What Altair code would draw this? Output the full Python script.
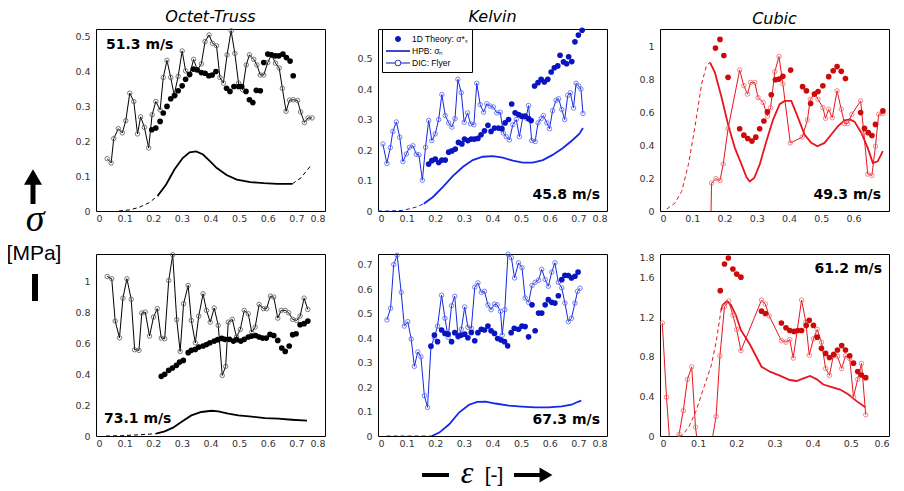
import altair as alt
import pandas as pd

# ---------------- Octet-Truss, 51.3 m/s ----------------
OT1_DIC_X = [0.039,0.053,0.062,0.078,0.092,0.104,0.118,0.132,0.145,0.156,0.169,0.184,0.196,0.209,0.224,0.235,0.248,0.261,0.273,0.287,0.301,0.313,0.327,0.341,0.354,0.368,0.381,0.395,0.407,0.421,0.433,0.445,0.458,0.472,0.485,0.498,0.512,0.525,0.536,0.551,0.562,0.574,0.586,0.600,0.613,0.627,0.640,0.651,0.664,0.676,0.689,0.704,0.715,0.728,0.741,0.755]
OT1_DIC_Y = [0.150,0.138,0.208,0.236,0.224,0.259,0.338,0.314,0.221,0.270,0.240,0.181,0.276,0.314,0.290,0.383,0.432,0.383,0.333,0.386,0.459,0.402,0.390,0.435,0.404,0.422,0.486,0.505,0.481,0.474,0.383,0.367,0.448,0.517,0.452,0.367,0.348,0.419,0.448,0.435,0.419,0.390,0.390,0.426,0.448,0.424,0.410,0.352,0.286,0.318,0.319,0.317,0.284,0.254,0.267,0.267]
OT1_TH_X = [0.195,0.209,0.224,0.235,0.248,0.261,0.275,0.287,0.301,0.313,0.327,0.340,0.353,0.368,0.381,0.394,0.406,0.419,0.456,0.468,0.482,0.498,0.509,0.524,0.536,0.548,0.560,0.574,0.586,0.600,0.613,0.627,0.639,0.653,0.665,0.678,0.689]
OT1_TH_Y = [0.233,0.238,0.257,0.281,0.300,0.322,0.331,0.345,0.359,0.378,0.392,0.407,0.405,0.397,0.395,0.388,0.390,0.400,0.352,0.343,0.357,0.357,0.357,0.343,0.319,0.311,0.346,0.345,0.426,0.450,0.448,0.445,0.445,0.450,0.440,0.430,0.388]
OT1_HPB_DL_X = [0.080,0.115,0.150,0.186,0.215]
OT1_HPB_DL_Y = [0.0,0.003,0.010,0.024,0.043]
OT1_HPB_X = [0.215,0.245,0.274,0.303,0.327,0.350,0.374,0.398,0.421,0.456,0.492,0.539,0.586,0.633,0.686]
OT1_HPB_Y = [0.043,0.076,0.119,0.152,0.168,0.171,0.162,0.143,0.124,0.103,0.090,0.083,0.080,0.078,0.078]
OT1_HPB_DR_X = [0.686,0.716,0.753]
OT1_HPB_DR_Y = [0.078,0.095,0.133]

# ---------------- Kelvin, 45.8 m/s ----------------
KV1_DIC_X = [0.017,0.031,0.043,0.052,0.064,0.076,0.087,0.099,0.110,0.122,0.134,0.143,0.155,0.166,0.177,0.188,0.200,0.212,0.223,0.235,0.247,0.258,0.269,0.279,0.291,0.301,0.313,0.323,0.335,0.345,0.357,0.369,0.380,0.392,0.403,0.415,0.427,0.438,0.448,0.459,0.471,0.483,0.494,0.506,0.517,0.526,0.537,0.549,0.559,0.570,0.578,0.590,0.599,0.610,0.622,0.631,0.642,0.652,0.663,0.672,0.683,0.692,0.701,0.709,0.716]
KV1_DIC_Y = [0.220,0.156,0.208,0.261,0.292,0.242,0.162,0.187,0.209,0.214,0.186,0.184,0.101,0.209,0.297,0.231,0.253,0.300,0.382,0.313,0.289,0.275,0.303,0.432,0.388,0.291,0.322,0.286,0.283,0.419,0.349,0.324,0.352,0.344,0.341,0.322,0.324,0.256,0.244,0.233,0.283,0.300,0.244,0.308,0.305,0.346,0.231,0.228,0.289,0.303,0.313,0.289,0.270,0.329,0.363,0.368,0.333,0.300,0.379,0.388,0.338,0.419,0.410,0.400,0.320]
KV1_TH_X = [0.177,0.188,0.200,0.212,0.223,0.235,0.247,0.258,0.270,0.281,0.293,0.302,0.314,0.326,0.337,0.349,0.360,0.372,0.384,0.395,0.407,0.421,0.433,0.444,0.456,0.467,0.479,0.491,0.502,0.514,0.526,0.535,0.547,0.559,0.570,0.581,0.593,0.605,0.616,0.628,0.636,0.648,0.659,0.666,0.677,0.688,0.700,0.713]
KV1_TH_Y = [0.154,0.165,0.170,0.159,0.167,0.167,0.193,0.197,0.203,0.225,0.220,0.236,0.231,0.236,0.236,0.238,0.250,0.263,0.281,0.261,0.272,0.272,0.270,0.289,0.300,0.351,0.322,0.316,0.311,0.311,0.303,0.297,0.410,0.421,0.432,0.423,0.432,0.456,0.470,0.476,0.511,0.489,0.483,0.506,0.490,0.555,0.577,0.593]
KV1_HPB_DL_X = [0.0,0.041,0.087,0.134,0.160]
KV1_HPB_DL_Y = [0.0,0.0,0.002,0.013,0.024]
KV1_HPB_X = [0.160,0.192,0.227,0.262,0.297,0.331,0.366,0.401,0.436,0.471,0.506,0.541,0.576,0.610,0.645,0.680,0.703,0.716]
KV1_HPB_Y = [0.024,0.046,0.079,0.115,0.145,0.167,0.178,0.180,0.175,0.165,0.159,0.159,0.167,0.184,0.206,0.233,0.253,0.272]

# ---------------- Cubic, 49.3 m/s ----------------
CU1_DIC_X = [0.155,0.160,0.173,0.186,0.196,0.211,0.247,0.260,0.271,0.281,0.294,0.304,0.320,0.333,0.343,0.356,0.369,0.381,0.404,0.441,0.457,0.466,0.479,0.490,0.505,0.513,0.523,0.534,0.549,0.562,0.572,0.582,0.595,0.622,0.632,0.644,0.657,0.668,0.678,0.691]
CU1_DIC_Y = [-0.3,0.169,0.196,0.185,0.285,0.499,0.855,0.760,0.709,0.780,0.780,0.688,0.658,0.576,0.627,0.845,0.937,0.770,0.413,0.448,0.552,0.678,0.709,0.678,0.627,0.562,0.617,0.566,0.729,0.617,0.530,0.530,0.587,0.668,0.475,0.224,0.216,0.393,0.587,0.591]
CU1_TH_X = [0.172,0.186,0.198,0.211,0.247,0.260,0.272,0.285,0.297,0.309,0.322,0.333,0.345,0.358,0.369,0.381,0.405,0.442,0.454,0.467,0.479,0.490,0.505,0.523,0.537,0.549,0.562,0.575,0.622,0.634,0.646,0.657,0.668,0.691]
CU1_TH_Y = [0.988,1.041,0.943,0.811,0.499,0.460,0.440,0.424,0.448,0.499,0.546,0.601,0.705,0.796,0.800,0.817,0.855,0.754,0.729,0.652,0.709,0.725,0.760,0.815,0.851,0.876,0.847,0.804,0.597,0.501,0.475,0.458,0.525,0.607]
CU1_HPB_DL_X = [0.021,0.046,0.067,0.088,0.108,0.129,0.144,0.155]
CU1_HPB_DL_Y = [0.012,0.047,0.118,0.281,0.505,0.770,0.882,0.902]
CU1_HPB_X = [0.155,0.170,0.191,0.211,0.232,0.253,0.268,0.278,0.292,0.309,0.330,0.351,0.371,0.387,0.407,0.428,0.448,0.469,0.488,0.510,0.531,0.552,0.572,0.588,0.603,0.624,0.644,0.660,0.675,0.691]
CU1_HPB_Y = [0.902,0.841,0.688,0.525,0.383,0.281,0.206,0.179,0.200,0.281,0.424,0.556,0.648,0.668,0.668,0.566,0.464,0.413,0.393,0.413,0.464,0.515,0.550,0.556,0.542,0.475,0.383,0.291,0.301,0.363]

# ---------------- Octet-Truss, 73.1 m/s ----------------
OT2_DIC_X = [0.039,0.055,0.067,0.082,0.094,0.108,0.123,0.135,0.150,0.160,0.172,0.187,0.201,0.214,0.228,0.240,0.254,0.268,0.282,0.294,0.306,0.322,0.333,0.347,0.359,0.374,0.386,0.399,0.413,0.427,0.441,0.453,0.462,0.476,0.491,0.504,0.518,0.532,0.544,0.556,0.570,0.585,0.596,0.609,0.621,0.635,0.647,0.661,0.673,0.687,0.701,0.713,0.727,0.740]
OT2_DIC_Y = [1.030,1.015,0.742,0.634,0.890,1.015,0.882,0.557,0.553,0.794,0.800,0.645,0.768,0.822,0.632,0.628,1.004,1.170,0.751,0.546,0.854,0.972,0.746,0.602,0.774,0.918,0.811,0.735,0.826,0.714,0.391,0.449,0.735,0.753,0.639,0.688,0.811,0.789,0.671,0.703,0.849,0.822,0.822,0.903,0.897,0.761,0.811,0.811,0.796,0.753,0.746,0.774,0.890,0.817]
OT2_TH_X = [0.228,0.240,0.254,0.267,0.281,0.292,0.305,0.322,0.333,0.347,0.359,0.374,0.386,0.398,0.413,0.425,0.439,0.450,0.466,0.480,0.491,0.506,0.518,0.532,0.544,0.558,0.570,0.582,0.595,0.608,0.621,0.635,0.649,0.661,0.675,0.687,0.699,0.713,0.727,0.740]
OT2_TH_Y = [0.385,0.398,0.424,0.439,0.456,0.477,0.488,0.538,0.553,0.559,0.574,0.581,0.591,0.602,0.613,0.622,0.630,0.624,0.624,0.613,0.622,0.613,0.624,0.639,0.645,0.649,0.639,0.632,0.632,0.656,0.649,0.617,0.568,0.546,0.581,0.654,0.660,0.718,0.725,0.742]
OT2_HPB_DL_X = [0.035,0.090,0.150,0.210]
OT2_HPB_DL_Y = [0.0,0.002,0.008,0.015]
OT2_HPB_X = [0.210,0.240,0.269,0.298,0.333,0.368,0.404,0.427,0.462,0.497,0.544,0.591,0.637,0.684,0.737]
OT2_HPB_Y = [0.015,0.030,0.054,0.090,0.133,0.155,0.163,0.159,0.144,0.133,0.125,0.116,0.112,0.105,0.099]

# ---------------- Kelvin, 67.3 m/s ----------------
KV2_DIC_X = [0.031,0.044,0.055,0.067,0.081,0.092,0.104,0.116,0.127,0.139,0.150,0.162,0.173,0.185,0.197,0.208,0.222,0.234,0.245,0.257,0.268,0.280,0.291,0.303,0.314,0.326,0.338,0.349,0.361,0.372,0.384,0.395,0.407,0.416,0.428,0.434,0.443,0.454,0.466,0.477,0.491,0.503,0.514,0.526,0.538,0.549,0.561,0.572,0.584,0.595,0.607,0.618,0.630,0.642,0.653,0.665,0.676,0.688,0.697,0.706]
KV2_DIC_Y = [0.475,0.523,0.702,0.740,0.588,0.450,0.468,0.397,0.285,0.344,0.324,0.165,0.117,0.365,0.404,0.450,0.576,0.482,0.404,0.533,0.572,0.404,0.437,0.528,0.445,0.441,0.609,0.627,0.588,0.592,0.537,0.517,0.540,0.537,0.510,0.413,0.517,0.744,0.730,0.647,0.709,0.689,0.565,0.547,0.616,0.629,0.638,0.682,0.641,0.613,0.671,0.709,0.629,0.606,0.544,0.468,0.482,0.544,0.592,0.605]
KV2_TH_X = [0.185,0.197,0.208,0.222,0.234,0.245,0.257,0.268,0.280,0.291,0.303,0.314,0.326,0.338,0.349,0.361,0.372,0.384,0.395,0.407,0.418,0.430,0.442,0.453,0.465,0.476,0.491,0.503,0.514,0.526,0.538,0.549,0.561,0.572,0.584,0.595,0.607,0.618,0.630,0.642,0.653,0.665,0.676,0.688,0.699]
KV2_TH_Y = [0.368,0.413,0.386,0.434,0.420,0.417,0.386,0.423,0.409,0.413,0.417,0.402,0.424,0.390,0.423,0.437,0.434,0.450,0.431,0.420,0.399,0.393,0.386,0.369,0.423,0.441,0.437,0.450,0.448,0.406,0.537,0.431,0.503,0.503,0.537,0.558,0.547,0.544,0.574,0.640,0.658,0.657,0.647,0.654,0.671]
KV2_HPB_DL_X = [0.030,0.090,0.150,0.188]
KV2_HPB_DL_Y = [0.0,0.0,0.0,0.0]
KV2_HPB_X = [0.188,0.214,0.249,0.283,0.318,0.347,0.376,0.410,0.457,0.503,0.549,0.595,0.642,0.676,0.699,0.710]
KV2_HPB_Y = [0.0,0.014,0.048,0.096,0.128,0.140,0.141,0.133,0.124,0.120,0.117,0.117,0.121,0.128,0.140,0.145]

# ---------------- Cubic, 61.2 m/s ----------------
CU2_DIC_X = [0.006,0.017,0.030,0.036,0.050,0.061,0.072,0.083,0.093,0.105,0.125,0.147,0.157,0.169,0.180,0.191,0.201,0.212,0.266,0.276,0.286,0.318,0.330,0.340,0.349,0.371,0.382,0.391,0.402,0.412,0.423,0.434,0.444,0.455,0.465,0.476,0.486,0.497,0.507,0.518,0.528,0.539]
CU2_DIC_Y = [1.142,0.392,-0.3,-0.3,0.017,0.256,0.573,0.699,0.09,-0.3,-0.3,0.198,0.811,1.306,1.364,1.221,1.077,0.863,1.374,1.333,1.214,0.965,0.948,0.975,0.788,1.374,1.152,0.818,0.982,1.077,0.948,0.682,0.614,0.828,0.805,0.682,0.811,0.784,0.396,0.573,0.733,0.215]
CU2_TH_X = [0.158,0.169,0.179,0.191,0.201,0.212,0.266,0.276,0.318,0.330,0.340,0.351,0.361,0.371,0.383,0.391,0.402,0.412,0.423,0.434,0.444,0.455,0.465,0.476,0.486,0.497,0.507,0.518,0.528,0.539]
CU2_TH_Y = [1.469,1.739,1.800,1.688,1.637,1.606,1.262,1.238,1.142,1.094,1.067,1.057,1.067,1.067,1.118,1.169,1.118,0.999,0.886,0.835,0.794,0.822,0.869,0.914,0.869,0.811,0.736,0.651,0.617,0.590]
CU2_HPB_DL_X = [0.050,0.059,0.076,0.094,0.116,0.134,0.147,0.160]
CU2_HPB_DL_Y = [0.0,0.010,0.095,0.249,0.504,0.709,0.948,1.272]
CU2_HPB_X = [0.160,0.164,0.175,0.186,0.199,0.212,0.235,0.266,0.288,0.314,0.340,0.358,0.376,0.393,0.411,0.428,0.450,0.472,0.494,0.516,0.538]
CU2_HPB_Y = [1.272,1.323,1.364,1.323,1.221,1.070,0.930,0.700,0.650,0.610,0.566,0.556,0.583,0.607,0.573,0.520,0.494,0.470,0.420,0.350,0.290]

TITLES = ["Octet-Truss", "Kelvin", "Cubic"]
SPEEDS = ["51.3 m/s", "45.8 m/s", "49.3 m/s", "73.1 m/s", "67.3 m/s", "61.2 m/s"]
LEGEND_LABELS = ["1D Theory: \u03c3*\u209b", "HPB: \u03c3\u2099", "DIC: Flyer"]
X_TICKS_8 = [0, 0.1, 0.2, 0.3, 0.4, 0.5, 0.6, 0.7, 0.8]
X_TICKS_6 = [0, 0.1, 0.2, 0.3, 0.4, 0.5, 0.6]

BLACK = ("#000000", "#5a5a5a", "#000000")
BLUE = ("#1428e6", "#5566f0", "#0a14c0")
RED = ("#e8141e", "#f06a6a", "#cc0a0a")

W, H = 229, 182
COL_STEP = W + 53

# legend symbol paths (unit = sqrt(size)/2)
P_DOT = "M1.5,0A0.5,0.5,0,1,1,0.5,0A0.5,0.5,0,1,1,1.5,0Z"
P_LINE = "M-1,-0.13H3V0.13H-1Z"
P_DIC = ("M-1,-0.08H0.45V0.08H-1Z M1.55,-0.08H3V0.08H1.55Z "
         "M1.55,0A0.55,0.55,0,1,0,0.45,0A0.55,0.55,0,1,0,1.55,0Z "
         "M1.4,0A0.4,0.4,0,1,1,0.6,0A0.4,0.4,0,1,1,1.4,0Z")


def mk_df(xs, ys):
    n = min(len(xs), len(ys))
    return pd.DataFrame({"x": list(xs)[:n], "y": list(ys)[:n], "i": list(range(n))})


def one():
    return pd.DataFrame({"a": [0]})


def panel(dic, theory, hpb_parts, colors, xdom, xvals, ydom, yvals, speed,
          title=None, legend_x=None, extra=()):
    line_c, circ_c, dot_c = colors
    xe = alt.X("x:Q", scale=alt.Scale(domain=xdom, nice=False, zero=False),
               axis=alt.Axis(values=xvals, format="~g", title=None))
    ye = alt.Y("y:Q", scale=alt.Scale(domain=ydom, nice=False, zero=False),
               axis=alt.Axis(values=yvals, format="~g", title=None))
    layers = []
    for xs, ys, dashed in hpb_parts:
        if dashed:
            m = alt.Chart(mk_df(xs, ys)).mark_line(color=line_c, strokeWidth=1.0,
                                                   strokeDash=[4, 3], clip=True)
        else:
            m = alt.Chart(mk_df(xs, ys)).mark_line(color=line_c, strokeWidth=1.8, clip=True)
        layers.append(m.encode(x=xe, y=ye, order="i:Q"))
    ddf = mk_df(*dic)
    layers.append(alt.Chart(ddf).mark_line(color=line_c, strokeWidth=1.0, clip=True)
                  .encode(x=xe, y=ye, order="i:Q"))
    layers.append(alt.Chart(ddf[ddf["y"] >= 0]).mark_point(
        shape="circle", filled=False, size=20, strokeWidth=0.8, color=circ_c, opacity=1)
        .encode(x=xe, y=ye))
    layers.append(alt.Chart(mk_df(*theory)).mark_circle(size=32, color=dot_c, opacity=1)
                  .encode(x=xe, y=ye))
    text, align, tx, ty = speed
    layers.append(alt.Chart(one()).mark_text(
        text=text, align=align, baseline="alphabetic", font="DejaVu Sans",
        fontWeight="bold", fontSize=14, color="black")
        .encode(x=alt.value(tx), y=alt.value(ty)))
    if legend_x is not None:
        leg_df = pd.DataFrame({"x": pd.Series([], dtype=float),
                               "y": pd.Series([], dtype=float),
                               "s": pd.Series([], dtype=str)})
        layers.append(alt.Chart(leg_df).mark_point(filled=True, size=144, opacity=1, color=dot_c)
                      .encode(x=xe, y=ye,
                              shape=alt.Shape("s:N",
                                              scale=alt.Scale(domain=LEGEND_LABELS,
                                                              range=[P_DOT, P_LINE, P_DIC]),
                                              legend=alt.Legend(
                                                  orient="none", legendX=legend_x, legendY=0,
                                                  title=None, direction="vertical",
                                                  padding=4, strokeColor="black",
                                                  fillColor="white", cornerRadius=0,
                                                  labelFont="Liberation Sans",
                                                  labelFontSize=8.5, labelColor="black",
                                                  labelOffset=14, symbolSize=144,
                                                  symbolStrokeWidth=0,
                                                  symbolFillColor=dot_c,
                                                  rowPadding=1, labelLimit=200))))
    layers.extend(extra)
    ch = alt.layer(*layers).properties(width=W, height=H)
    if title:
        ch = ch.properties(title=alt.Title(title))
    return ch


# global axis annotations (pixel positions, relative to panel plot areas)
left_ann = [
    alt.Chart(one()).mark_point(shape="triangle-up", filled=True, size=324, color="black", opacity=1)
    .encode(x=alt.value(-63), y=alt.value(148)),
    alt.Chart(one()).mark_rule(strokeWidth=5, color="black")
    .encode(x=alt.value(-63), y=alt.value(154), y2=alt.value(175)),
    alt.Chart(one()).mark_text(text="\u03c3", font="Liberation Serif", fontStyle="italic",
                               fontSize=38, align="center", baseline="alphabetic", color="black")
    .encode(x=alt.value(-61), y=alt.value(202)),
    alt.Chart(one()).mark_text(text="[MPa]", font="Liberation Sans", fontSize=21,
                               align="center", baseline="alphabetic", color="black")
    .encode(x=alt.value(-62), y=alt.value(231)),
    alt.Chart(one()).mark_rule(strokeWidth=6, color="black")
    .encode(x=alt.value(-61), y=alt.value(245), y2=alt.value(272)),
]
bottom_ann = [
    alt.Chart(one()).mark_rule(strokeWidth=4, color="black")
    .encode(x=alt.value(44), x2=alt.value(71), y=alt.value(221)),
    alt.Chart(one()).mark_text(text="\u03b5", font="Liberation Serif", fontStyle="italic",
                               fontSize=32, align="center", baseline="alphabetic", color="black")
    .encode(x=alt.value(89), y=alt.value(229)),
    alt.Chart(one()).mark_text(text="[-]", font="Liberation Sans", fontSize=21,
                               align="center", baseline="alphabetic", color="black")
    .encode(x=alt.value(116), y=alt.value(228)),
    alt.Chart(one()).mark_rule(strokeWidth=4, color="black")
    .encode(x=alt.value(136), x2=alt.value(166), y=alt.value(221)),
    alt.Chart(one()).mark_point(shape="triangle-right", filled=True, size=220, color="black", opacity=1)
    .encode(x=alt.value(168), y=alt.value(221)),
]

p1 = panel((OT1_DIC_X, OT1_DIC_Y), (OT1_TH_X, OT1_TH_Y),
           [(OT1_HPB_DL_X, OT1_HPB_DL_Y, True), (OT1_HPB_X, OT1_HPB_Y, False),
            (OT1_HPB_DR_X, OT1_HPB_DR_Y, True)],
           BLACK, [0, 0.8], X_TICKS_8, [0, 0.522], [0, 0.1, 0.2, 0.3, 0.4, 0.5],
           (SPEEDS[0], "left", 10, 20), title=TITLES[0], extra=left_ann)
p2 = panel((KV1_DIC_X, KV1_DIC_Y), (KV1_TH_X, KV1_TH_Y),
           [(KV1_HPB_DL_X, KV1_HPB_DL_Y, True), (KV1_HPB_X, KV1_HPB_Y, False)],
           BLUE, [0, 0.8], X_TICKS_8, [0, 0.597], [0, 0.1, 0.2, 0.3, 0.4, 0.5],
           (SPEEDS[1], "right", 222, 170), title=TITLES[1], legend_x=COL_STEP + 4)
p3 = panel((CU1_DIC_X, CU1_DIC_Y), (CU1_TH_X, CU1_TH_Y),
           [(CU1_HPB_DL_X, CU1_HPB_DL_Y, True), (CU1_HPB_X, CU1_HPB_Y, False)],
           RED, [0, 0.71], X_TICKS_6, [0, 1.104], [0, 0.2, 0.4, 0.6, 0.8, 1.0],
           (SPEEDS[2], "right", 221, 170), title=TITLES[2])
p4 = panel((OT2_DIC_X, OT2_DIC_Y), (OT2_TH_X, OT2_TH_Y),
           [(OT2_HPB_DL_X, OT2_HPB_DL_Y, True), (OT2_HPB_X, OT2_HPB_Y, False)],
           BLACK, [0, 0.8], X_TICKS_8, [0, 1.175], [0, 0.2, 0.4, 0.6, 0.8, 1.0],
           (SPEEDS[3], "left", 8, 169))
p5 = panel((KV2_DIC_X, KV2_DIC_Y), (KV2_TH_X, KV2_TH_Y),
           [(KV2_HPB_DL_X, KV2_HPB_DL_Y, True), (KV2_HPB_X, KV2_HPB_Y, False)],
           BLUE, [0, 0.8], X_TICKS_8, [0, 0.745], [0, 0.1, 0.2, 0.3, 0.4, 0.5, 0.6, 0.7],
           (SPEEDS[4], "right", 222, 170), extra=bottom_ann)
p6 = panel((CU2_DIC_X, CU2_DIC_Y), (CU2_TH_X, CU2_TH_Y),
           [(CU2_HPB_DL_X, CU2_HPB_DL_Y, True), (CU2_HPB_X, CU2_HPB_Y, False)],
           RED, [0, 0.6], X_TICKS_6, [0, 1.84], [0, 0.4, 0.8, 1.2, 1.6, 1.8],
           (SPEEDS[5], "right", 222, 19))

chart = alt.concat(p1, p2, p3, p4, p5, p6, columns=3,
                   spacing={"row": 43, "column": 53}, bounds="flush").properties(
    padding={"left": -2, "top": 0, "right": 2, "bottom": 2}
).configure_view(stroke="#000000", strokeWidth=1).configure_axis(
    labelFont="DejaVu Sans", labelFontSize=9.5, labelColor="#333333",
    ticks=False, domain=False, grid=False
).configure_axisX(labelPadding=2).configure_axisY(labelPadding=6).configure_title(
    font="DejaVu Sans", fontSize=16, fontStyle="italic", fontWeight="normal",
    color="black", anchor="middle", offset=2
)

chart.save("out.html", embed_options={"renderer": "svg", "actions": False})
